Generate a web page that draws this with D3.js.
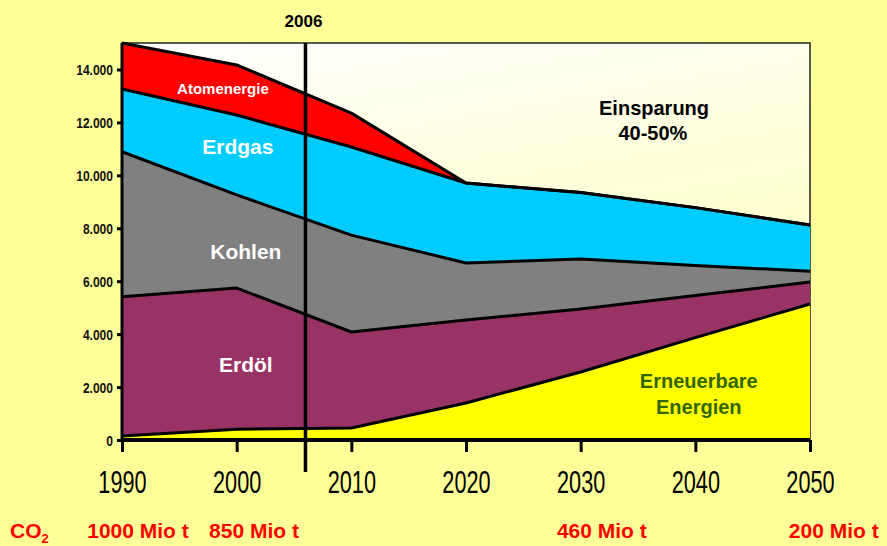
<!DOCTYPE html>
<html>
<head>
  <meta charset="utf-8" />
  <title>Energieverbrauch 1990-2050</title>
  <script src="https://d3js.org/d3.v7.min.js"></script>
  <style>
    body { margin: 0; background-color: #ffff99; }
    svg { display: block; font-family: "Liberation Sans", Arial, sans-serif; }
  </style>
</head>
<body>
  <svg id="chart" width="887" height="546"></svg>
  <script>
    // values (stack thickness per year)
    var years = [1990, 2000, 2010, 2020, 2030, 2040, 2050];
    var erneuerbare = [150, 410, 450, 1400, 2570, 3870, 5140];
    var erdoel = [5260, 5330, 3630, 3130, 2380, 1590, 830];
    var kohlen = [5480, 3520, 3660, 2160, 1890, 1130, 410];
    var erdgas = [2370, 3020, 3330, 3020, 2510, 2190, 1740];
    var atom = [1740, 1890, 1280, 0, 0, 0, 0];

    var seriesNames = ["Erneuerbare", "Erdöl", "Kohlen", "Erdgas", "Atomenergie"];
    var seriesColors = ["#ffff00", "#993366", "#808080", "#00ccff", "#ff0000"];

    var yTicks = [0, 2000, 4000, 6000, 8000, 10000, 12000, 14000];
    var co2Years = [1990, 2000, 2030, 2050];
    var co2Labels = ["1000 Mio t", "850 Mio t", "460 Mio t", "200 Mio t"];
    var markYear = 2006;

    var rows = years.map(function (yr, i) {
      return {
        year: yr,
        "Erneuerbare": erneuerbare[i],
        "Erdöl": erdoel[i],
        "Kohlen": kohlen[i],
        "Erdgas": erdgas[i],
        "Atomenergie": atom[i]
      };
    });

    // note: "top" is taken by window.top
    var pLeft = 122, pRight = 810, pTop = 43, pBottom = 440;

    var svg = d3.select("#chart");

    var x = d3.scaleLinear().domain([1990, 2050]).range([pLeft, pRight]);
    var y = d3.scaleLinear().domain([0, 15000]).range([pBottom, pTop]);

    var de = d3.formatLocale({ decimal: ",", thousands: ".", grouping: [3], currency: ["", " €"] });
    var fmt = de.format(",d");

    // plot background gradient
    var grad = svg.append("defs").append("linearGradient")
      .attr("id", "bg").attr("x1", 0).attr("y1", 0).attr("x2", 0.3).attr("y2", 1);
    grad.append("stop").attr("offset", "0%").attr("stop-color", "#ffffff");
    grad.append("stop").attr("offset", "100%").attr("stop-color", "#ffffb8");

    svg.append("rect")
      .attr("x", pLeft).attr("y", pTop)
      .attr("width", pRight - pLeft).attr("height", pBottom - pTop)
      .attr("fill", "url(#bg)")
      .attr("stroke", "#222").attr("stroke-width", 1.5);

    var stack = d3.stack().keys(seriesNames);
    var layers = stack(rows);

    var area = d3.area()
      .x(function (d) { return x(d.data.year); })
      .y0(function (d) { return y(d[0]); })
      .y1(function (d) { return y(d[1]); });

    var topLine = d3.line()
      .x(function (d) { return x(d.data.year); })
      .y(function (d) { return y(d[1]); });

    svg.append("g").selectAll("path")
      .data(layers)
      .enter().append("path")
      .attr("d", area)
      .attr("fill", function (d, i) { return seriesColors[i]; });

    svg.append("g").selectAll("path")
      .data(layers)
      .enter().append("path")
      .attr("d", topLine)
      .attr("fill", "none")
      .attr("stroke", "#000")
      .attr("stroke-width", 3)
      .attr("stroke-linejoin", "round");

    // y axis
    var yAxis = d3.axisLeft(y).tickValues(yTicks).tickSize(5).tickFormat(fmt);
    var gy = svg.append("g").attr("transform", "translate(" + pLeft + ",0)").call(yAxis);
    gy.select(".domain").attr("stroke", "#000").attr("stroke-width", 3)
      .attr("d", "M0," + pTop + "V" + pBottom);
    gy.selectAll(".tick line").attr("stroke-width", 3);
    gy.selectAll(".tick text")
      .attr("x", null).attr("dy", null)
      .attr("transform", "translate(-9,5) scale(0.86,1)")
      .attr("font-size", 14).attr("font-weight", "bold").attr("fill", "#111");

    // x axis
    var xAxis = d3.axisBottom(x).tickValues(years).tickSize(12).tickFormat(d3.format("d"));
    var gx = svg.append("g").attr("transform", "translate(0," + pBottom + ")").call(xAxis);
    gx.select(".domain").attr("stroke", "#000").attr("stroke-width", 4)
      .attr("d", "M" + pLeft + ",0H" + pRight);
    gx.selectAll(".tick line").attr("stroke-width", 3);
    gx.selectAll(".tick text")
      .attr("y", null).attr("dy", null)
      .attr("transform", "translate(0,53) scale(0.7,1)")
      .attr("font-size", 31).attr("fill", "#000");

    // 2006 marker
    svg.append("line")
      .attr("x1", x(markYear)).attr("x2", x(markYear))
      .attr("y1", pTop).attr("y2", 472)
      .attr("stroke", "#000").attr("stroke-width", 3.5);
    svg.append("text")
      .attr("x", x(markYear) - 2).attr("y", 27)
      .attr("text-anchor", "middle")
      .attr("font-size", 17).attr("font-weight", "bold")
      .text(markYear);

    // labels inside the areas
    var labels = [
      { t: "Atomenergie", yr: 1998.8, v: 13070, s: 15, c: "#fff" },
      { t: "Erdgas", yr: 2000.1, v: 10800, s: 21, c: "#fff" },
      { t: "Kohlen", yr: 2000.8, v: 6840, s: 21, c: "#fff" },
      { t: "Erdöl", yr: 2000.8, v: 2570, s: 21, c: "#fff" },
      { t: "Einsparung", yr: 2036.4, v: 12280, s: 20, c: "#000" },
      { t: "40-50%", yr: 2036.3, v: 11320, s: 20, c: "#000" },
      { t: "Erneuerbare", yr: 2040.3, v: 1960, s: 20, c: "#336600" },
      { t: "Energien", yr: 2040.3, v: 980, s: 20, c: "#336600" }
    ];
    svg.append("g").selectAll("text")
      .data(labels)
      .enter().append("text")
      .attr("x", function (d) { return x(d.yr); })
      .attr("y", function (d) { return y(d.v); })
      .attr("text-anchor", "middle")
      .attr("font-weight", "bold")
      .attr("font-size", function (d) { return d.s; })
      .attr("fill", function (d) { return d.c; })
      .text(function (d) { return d.t; });

    // CO2 row
    var co2 = svg.append("text")
      .attr("x", 10).attr("y", 538)
      .attr("font-size", 21).attr("font-weight", "bold").attr("fill", "#ff0000");
    co2.append("tspan").text("CO");
    co2.append("tspan").attr("font-size", 13).attr("dy", 5).text("2");

    svg.append("g").selectAll("text")
      .data(co2Labels)
      .enter().append("text")
      .attr("x", function (d, i) { return x(co2Years[i]) + 16 + 0.13 * (co2Years[i] - 1990); })
      .attr("y", 538)
      .attr("text-anchor", "middle")
      .attr("font-size", 21).attr("font-weight", "bold").attr("fill", "#ff0000")
      .text(function (d) { return d; });
  </script>
</body>
</html>
